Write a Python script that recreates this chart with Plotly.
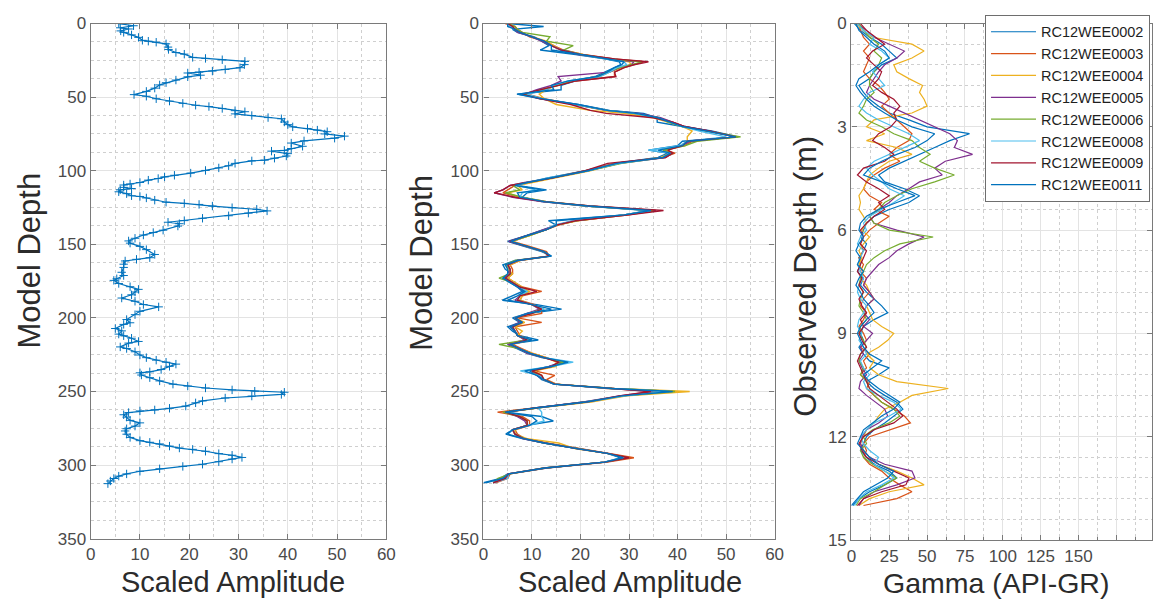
import plotly.graph_objects as go

W, H = 1161, 611

# ---------------- left panel: single model trace ----------------
model_amp = [5.7, 8.7, 6.0, 7.7, 6.1, 6.7, 8.3, 9.7, 10.5, 11.7, 13.3, 15.3, 15.7, 15.8, 17.3, 19.0,
             20.7, 23.3, 26.7, 31.3, 31.2, 30.3, 27.3, 24.7, 22.0, 19.7, 22.3, 19.7, 17.3, 15.3, 14.0,
             13.0, 11.3, 8.8, 11.3, 13.3, 16.0, 18.7, 21.3, 24.0, 26.7, 29.3, 31.3, 29.3, 32.7, 36.0,
             38.7, 39.3, 40.0, 41.0, 44.0, 46.0, 48.0, 47.5, 51.5, 49.5, 43.3, 40.7, 43.0, 40.7, 39.3,
             36.7, 40.0, 39.7, 37.3, 35.3, 32.7, 29.3, 28.0, 26.0, 23.3, 20.3, 17.0, 15.0, 13.7, 11.7,
             10.0, 8.0, 6.7, 6.7, 8.3, 6.0, 5.7, 7.3, 8.3, 10.0, 11.3, 13.0, 15.3, 19.0, 22.0, 24.7,
             28.7, 33.7, 35.8, 32.0, 28.0, 22.7, 19.0, 15.7, 18.0, 17.7, 14.7, 12.7, 10.7, 9.0, 7.7,
             8.0, 10.0, 11.3, 13.0, 12.0, 9.3, 7.0, 6.7, 6.7, 6.3, 6.7, 5.3, 4.7, 5.7, 8.0, 9.7, 9.0,
             8.3, 6.3, 9.0, 10.7, 13.8, 10.0, 9.0, 7.3, 8.0, 6.7, 5.0, 6.3, 5.7, 6.7, 8.3, 9.7, 7.7,
             6.0, 7.3, 9.0, 10.0, 11.3, 13.3, 15.3, 17.3, 16.0, 14.3, 12.0, 10.0, 10.3, 12.0, 14.0,
             16.7, 19.7, 23.3, 28.7, 33.3, 39.3, 38.7, 32.7, 27.3, 22.7, 21.3, 19.3, 16.0, 13.0, 10.0,
             7.7, 6.7, 7.3, 8.0, 10.0, 9.0, 7.3, 7.0, 7.3, 8.0, 10.0, 12.0, 14.0, 16.0, 18.0, 20.7,
             23.3, 26.0, 28.7, 30.7, 28.7, 26.0, 22.7, 18.7, 14.0, 10.0, 7.3, 5.7, 4.7, 4.0, 3.5]
model_depth = [0.0, 1.5, 2.9, 3.7, 5.0, 6.0, 7.7, 9.4, 11.4, 12.0, 12.7, 13.8, 16.0, 17.6, 19.7, 20.8,
               23.0, 23.7, 24.6, 25.7, 27.9, 30.0, 31.2, 32.3, 33.0, 33.6, 35.1, 36.2, 38.4, 40.2, 41.7,
               43.9, 46.1, 48.3, 49.4, 51.1, 52.7, 54.2, 55.5, 56.4, 57.7, 59.2, 59.9, 61.4, 62.5, 63.9,
               64.7, 66.9, 68.7, 70.2, 71.3, 72.4, 73.5, 75.0, 76.5, 77.9, 79.7, 81.2, 83.4, 84.9, 86.2,
               86.7, 88.4, 90.0, 91.5, 92.8, 93.3, 95.0, 96.6, 98.1, 99.8, 101.6, 103.1, 104.2, 105.3, 106.4,
               108.0, 109.0, 109.7, 111.3, 112.1, 113.0, 114.3, 115.6, 117.0, 117.5, 118.5, 120.0, 121.4, 122.2, 122.9, 124.0,
               125.1, 126.2, 127.3, 128.8, 130.6, 132.3, 133.9, 135.0, 136.0, 137.6, 140.4, 142.0, 143.7, 145.9, 147.7,
               149.2, 151.4, 153.6, 156.9, 159.1, 160.2, 161.3, 163.5, 165.7, 169.0, 171.2, 173.4, 174.5, 176.6, 178.8, 180.6, 182.4,
               184.3, 186.5, 188.7, 190.9, 192.5, 195.5, 197.8, 201.1, 203.3, 204.4, 207.2, 208.8, 211.0, 212.1, 213.8, 216.0, 217.1,
               219.7, 220.8, 223.0, 225.2, 227.0, 228.7, 230.1, 231.4, 232.9, 235.1, 236.6, 237.3, 238.8, 240.6, 242.8,
               245.0, 246.3, 247.6, 248.9, 249.8, 250.5, 252.0, 253.1, 254.4, 256.4, 257.7, 259.9, 261.4, 262.5, 263.2,
               264.3, 265.8, 267.4, 269.6, 271.3, 273.5, 275.3, 276.8, 279.0, 281.2, 283.4, 284.5, 285.6, 287.1, 288.4, 289.3,
               290.6, 292.2, 293.3, 294.8, 295.9, 297.7, 299.4, 300.9, 302.5, 304.2, 306.0, 307.5, 309.1, 310.8, 312.6]

# ---------------- middle panel: one model trace per well ----------------
ens_depth = [0, 2, 4, 6, 9, 12, 15, 18, 21, 24,
             26, 28, 30, 33, 36, 39, 42, 45, 48, 51,
             55, 59, 61, 64, 67, 70, 73, 77, 80, 83,
             86, 88, 91, 95, 100, 105, 108, 110, 113, 115,
             118, 121, 124, 127, 130, 134, 137, 140, 144, 148,
             151, 155, 158, 161, 164, 167, 170, 173, 176, 179,
             182, 185, 188, 191, 194, 197, 200, 203, 206, 209,
             212, 215, 218, 221, 224, 227, 230, 233, 236, 239,
             242, 245, 248, 250, 253, 257, 261, 264, 267, 270,
             273, 276, 279, 282, 285, 289, 292, 295, 298, 302,
             306, 309, 312]

ens_0002 = [5, 12.4, 6, 7, 10.5, 12, 13.5, 11.7, 19, 25,
            28, 28.3, 27, 25, 23, 19, 16, 16, 6.9, 11.5,
            19.5, 26, 33, 35.8, 35.8, 41, 47, 52.5, 41, 40,
            34, 38, 36, 27, 21, 13, 9, 7, 13, 9,
            8, 12, 21, 34, 29, 13.4, 15, 12.5, 9, 5,
            8, 12, 14, 6.5, 4, 4.5, 6, 4, 5.5, 7,
            8, 6, 3.9, 11, 16.1, 9, 6, 7.5, 5, 6,
            7.5, 11.3, 5, 7, 9, 12, 17, 13.5, 9.5, 11,
            12, 14.5, 27, 39.5, 29, 21, 11, 4.5, 12, 14.4,
            9, 6, 4.6, 8, 12.5, 19.5, 25.5, 28.3, 25, 13,
            5, 3.5, 0]
ens_0003 = [4.5, 6.5, 7, 8, 9.5, 12.5, 14.5, 16.5, 20.5, 27,
            33, 31, 29, 27, 27, 19, 15, 12, 9, 12.5,
            18.5, 25, 30.5, 36, 39, 41.5, 46, 52, 43, 41.5,
            37.5, 39.5, 37, 27, 21, 14, 9.5, 6.5, 5, 4,
            7.5, 13, 22, 35.5, 30, 19, 15.5, 13, 9.5, 6,
            9, 13, 13.5, 7.5, 5.5, 6, 6, 5, 6.5, 8,
            12, 8, 7.5, 10.5, 12, 12, 7, 12, 6.5, 7,
            7.5, 9.5, 6, 8, 10, 13, 15.5, 14, 10.5, 14.7,
            13, 15, 25.5, 37, 28.5, 22, 11.5, 2.9, 8, 9.5,
            9.5, 6.5, 7, 8.5, 13, 20, 26, 31, 25.5, 13,
            5.5, 5, 2.5]
ens_0004 = [5.5, 6, 6.5, 7.5, 10, 13, 14.5, 16, 20.5, 25.5,
            30, 30.5, 28.5, 26, 24, 18.5, 15, 13, 11.5, 12.5,
            15, 22, 29, 35, 38, 41, 43, 42, 42, 41,
            37.5, 38.5, 36.5, 28, 22, 14.5, 9.5, 7, 8, 5,
            7.5, 12.5, 21, 34.5, 29.5, 19.5, 15, 13, 9.5, 6,
            8.5, 12.5, 13.5, 7.5, 5.5, 5, 6, 5, 6.5, 8,
            9.5, 8, 7.5, 10, 12.5, 10, 6.5, 8.5, 6.5, 8,
            7, 9.5, 5.5, 7.5, 10, 13, 15, 15, 10.5, 12,
            12.5, 15, 27, 42.5, 29.5, 22.5, 11.5, 5, 7.5, 9,
            9, 6.5, 6.5, 9, 15.5, 19, 25.5, 29.5, 25, 12.5,
            5, 4.5, 2]
ens_0005 = [5, 6, 6.5, 7, 10, 12, 14, 16, 19.5, 26,
            31, 30.5, 28, 26, 15.4, 16, 14, 11, 8.5, 11.5,
            19, 25.5, 32, 36.5, 39, 41.5, 46.5, 52, 42.5, 41,
            37, 39, 37.5, 28, 21.5, 14, 8.5, 5.5, 4, 2.2,
            6, 12, 21.5, 35.5, 29, 18.5, 15, 12.5, 9, 5.2,
            8.5, 12.5, 13.5, 7, 5, 5.5, 5, 4.5, 6, 7,
            8.5, 7.5, 6.5, 10, 11.5, 9, 6.5, 7.5, 5.5, 6.5,
            7, 8.5, 5, 7.5, 9, 12.5, 16, 13.5, 10, 11,
            12.5, 14.5, 27.6, 35, 28, 21, 11, 4.5, 7, 8.5,
            9, 6, 6.5, 8, 12.5, 19.5, 25.5, 29.5, 25, 12.5,
            5, 4, 2]
ens_0006 = [5, 6.5, 7, 8, 13.7, 13, 18.5, 16.5, 20, 26,
            32.7, 30.5, 28, 25.5, 23.5, 18, 15.5, 12, 8.5, 12,
            19, 25.5, 31, 36, 38, 41, 46, 53, 44, 41.5,
            37, 39, 37, 28.5, 21.5, 14, 9, 6, 7.5, 4.5,
            8, 13, 21.5, 35, 29, 19, 15, 13, 9.5, 5.8,
            8.5, 12.5, 13.5, 6.5, 4.5, 5.5, 5.5, 3.2, 6, 7.5,
            9, 7.5, 7, 10, 12, 9.5, 6.5, 8, 6, 6.5,
            7, 9, 3.2, 7.5, 9.5, 12.5, 16.5, 14, 10, 11.5,
            12.5, 14.7, 26.5, 39.5, 28.5, 21.5, 11.5, 4, 7.5, 9,
            9, 6, 6.5, 8.5, 12.5, 19.5, 25.5, 29.5, 25, 12.5,
            5.5, 3, 2]
ens_0008 = [5, 5.5, 6.5, 7.5, 10, 12.5, 14, 16, 20, 25,
            29, 29.5, 27.5, 26, 24, 17.5, 14.5, 13, 9, 12,
            19, 25.5, 31, 35.5, 38.5, 41, 44.5, 50, 42, 40.5,
            34, 38.5, 37, 28, 21.5, 13, 9, 7, 10.7, 8,
            7.5, 12.5, 21.5, 34.5, 29, 18.5, 14.5, 13, 9, 5.6,
            8.5, 12.5, 13.5, 7, 5, 5.5, 5.5, 4.5, 6, 7.5,
            9, 7.5, 7, 10, 12.5, 9.5, 6.5, 8, 6, 6.5,
            7, 9, 5.5, 7.5, 9.5, 12.5, 18.5, 14, 7.6, 11.5,
            12.5, 14.5, 26, 38, 29, 21.5, 11.3, 12, 12, 12.5,
            9.5, 6, 6.5, 8.3, 12.7, 19.5, 25.6, 29, 24.9, 12.7,
            5.2, 5, 2]
ens_0009 = [5, 6, 6.5, 7.5, 10, 12.5, 14, 16, 20, 27,
            34, 31, 29, 27, 27.3, 19, 15.5, 12, 8, 11.5,
            18, 22, 25.3, 35, 39, 41.5, 46.5, 52, 42, 41,
            38, 39, 37.5, 25.6, 21, 14, 8.5, 5.5, 4, 2.2,
            6.5, 12.5, 22, 37.1, 30, 19, 15, 13, 9, 5.5,
            8.5, 12.5, 13.5, 7, 5, 5.5, 5.5, 4.5, 6, 7.5,
            11, 7.5, 7, 10, 12, 10, 6.5, 8, 6, 6.5,
            7, 9, 5.5, 7.5, 9.5, 12.5, 15.5, 14, 10, 12,
            12.5, 14.7, 26, 34.5, 28, 21.5, 11, 4.5, 7.5, 9,
            9, 6, 6.5, 8.3, 12.7, 19.5, 25.6, 30, 25, 12.7,
            5.2, 4.5, 2]
ens_0011 = [5, 5, 6.5, 7.5, 10, 12.5, 14, 14, 20, 25.5,
            29, 28.5, 27, 25.5, 23.5, 17.5, 14, 14.5, 7, 12,
            19.5, 25.5, 31.5, 36, 38.5, 41, 46, 52, 42, 41,
            36, 38.5, 37, 27.5, 21.5, 13.5, 9, 6.5, 12, 7,
            7.5, 12.5, 21.5, 34.5, 29, 15, 15, 13, 9, 5.6,
            8.5, 12.5, 14, 7, 4.5, 5, 5, 4, 5.5, 7,
            8.5, 7, 5, 10, 14, 9, 6.5, 8, 5.5, 6.5,
            7, 10, 5.5, 7.5, 9.5, 12.5, 17.5, 14, 8.5, 11,
            12.5, 14.5, 26.5, 39, 28.5, 21.5, 11, 4.5, 10, 11,
            9.5, 6, 5, 8.3, 12.5, 19.5, 25.5, 28.8, 24.9, 12.7,
            5.2, 4, 0.5]

# ---------------- right panel: gamma logs ----------------
gr_depth = [0.0, 0.2, 0.4, 0.6, 0.8, 1.0, 1.2, 1.4, 1.6, 1.8,
            2.0, 2.2, 2.4, 2.6, 2.8, 3.0, 3.2, 3.4, 3.6, 3.8,
            4.0, 4.2, 4.4, 4.6, 4.8, 5.0, 5.2, 5.4, 5.6, 5.8,
            6.0, 6.2, 6.4, 6.6, 6.8, 7.0, 7.2, 7.4, 7.6, 7.8,
            8.0, 8.2, 8.4, 8.6, 8.8, 9.0, 9.2, 9.4, 9.6, 9.8,
            10.0, 10.2, 10.4, 10.6, 10.8, 11.0, 11.2, 11.4, 11.6, 11.8,
            12.0, 12.2, 12.4, 12.6, 12.8, 13.0, 13.2, 13.4, 13.6, 13.8,
            14.0]

gr_0002 = [2, 6, 12, 20, 25, 30, 20, 15, 12, 5,
           8, 12, 18, 25, 38, 50, 78, 65, 55, 45,
           35, 25, 18, 22, 35, 45, 38, 25, 15, 10,
           8, 6, 10, 8, 5, 6, 4, 8, 6, 10,
           15, 20, 24, 15, 8, 6, 8, 5, 8, 12,
           25, 18, 10, 15, 22, 30, 34, 28, 22, 15,
           10, 8, 6, 10, 15, 25, 30, 22, 12, 5,
           1]
gr_0003 = [5, 6, 8, 12, 8, 12, 10, 8, 12, 18,
           22, 25, 20, 25, 30, 35, 40, 38, 30, 25,
           32, 22, 15, 10, 8, 12, 20, 15, 25, 18,
           12, 8, 6, 8, 5, 8, 6, 10, 8, 12,
           8, 6, 10, 8, 5, 8, 10, 6, 12, 8,
           10, 6, 12, 10, 15, 20, 28, 35, 39, 25,
           12, 8, 10, 8, 12, 20, 25, 32, 40, 30,
           8]
gr_0004 = [3, 8, 14, 40, 48, 40, 28, 30, 38, 47,
           45, 48, 50, 40, 15, 10, 22, 10, 30, 40,
           25, 18, 12, 10, 8, 5, 6, 5, 8, 10,
           7, 12, 8, 5, 7, 5, 8, 6, 10, 12,
           15, 10, 12, 14, 20, 28, 24, 18, 10, 15,
           12, 18, 30, 64, 40, 32, 22, 18, 15, 10,
           8, 6, 8, 12, 18, 30, 40, 48, 25, 12,
           5]
gr_0005 = [4, 10, 15, 25, 35, 30, 22, 18, 15, 12,
           10, 15, 25, 35, 45, 55, 65, 70, 68, 80,
           62, 55, 60, 45, 38, 30, 25, 18, 12, 15,
           30, 48, 38, 30, 25, 18, 14, 10, 8, 12,
           15, 10, 8, 12, 8, 14, 10, 6, 8, 5,
           7, 10, 6, 5, 10, 16, 22, 24, 18, 10,
           7, 6, 8, 12, 22, 40, 42, 30, 15, 8,
           5]
gr_0006 = [5, 8, 12, 18, 15, 20, 18, 15, 12, 12,
           15, 10, 8, 5, 10, 20, 28, 40, 45, 52,
           45, 55, 68, 55, 40, 30, 22, 18, 12, 15,
           25, 54, 32, 22, 15, 10, 8, 6, 5, 8,
           6, 5, 8, 10, 6, 5, 8, 10, 6, 5,
           8, 6, 10, 12, 15, 20, 28, 32, 25, 14,
           8, 10, 6, 8, 14, 22, 30, 22, 15, 6,
           3]
gr_0008 = [4, 8, 15, 12, 20, 25, 18, 14, 18, 22,
           12, 8, 5, 10, 18, 28, 38, 45, 35, 25,
           15, 10, 14, 20, 25, 35, 28, 20, 12, 8,
           10, 6, 4, 8, 6, 4, 6, 8, 5, 4,
           6, 10, 8, 5, 4, 7, 5, 8, 10, 6,
           8, 12, 8, 10, 18, 28, 33, 25, 15, 10,
           6, 8, 12, 18, 15, 22, 28, 20, 10, 5,
           2]
gr_0009 = [6, 10, 16, 22, 14, 10, 15, 20, 18, 14,
           20, 28, 32, 28, 30, 26, 18, 14, 22, 28,
           22, 8, 4, 10, 18, 25, 18, 22, 15, 10,
           6, 8, 6, 10, 8, 6, 4, 7, 5, 8,
           5, 7, 10, 6, 8, 5, 7, 10, 6, 4,
           6, 8, 10, 12, 18, 24, 30, 34, 28, 15,
           8, 5, 7, 10, 18, 28, 38, 36, 20, 8,
           4]
gr_0011 = [3, 5, 10, 15, 22, 25, 18, 12, 5, 3,
           6, 10, 15, 22, 30, 40, 55, 50, 42, 30,
           20, 12, 8, 20, 30, 42, 30, 18, 10, 6,
           5, 8, 5, 3, 6, 4, 8, 5, 3, 6,
           8, 12, 15, 10, 6, 4, 6, 8, 12, 20,
           14, 8, 12, 18, 25, 32, 28, 20, 14, 8,
           6, 4, 8, 12, 18, 28, 24, 16, 8, 4,
           0]

well_names = ["RC12WEE0002", "RC12WEE0003", "RC12WEE0004", "RC12WEE0005",
              "RC12WEE0006", "RC12WEE0008", "RC12WEE0009", "RC12WEE0011"]
ens_series = [ens_0002, ens_0003, ens_0004, ens_0005, ens_0006, ens_0008, ens_0009, ens_0011]
gr_series = [gr_0002, gr_0003, gr_0004, gr_0005, gr_0006, gr_0008, gr_0009, gr_0011]
well_colors = ["#0072BD", "#D95319", "#EDB120", "#7E2F8E",
               "#77AC30", "#4DBEEE", "#A2142F", "#0072BD"]

amp_ticks = [0, 10, 20, 30, 40, 50, 60]
depth_ticks = [0, 50, 100, 150, 200, 250, 300, 350]
gamma_ticks = [0, 25, 50, 75, 100, 125, 150, 175]
gamma_labels = ["0", "25", "50", "75", "100", "125", "150", ""]
obs_ticks = [0, 3, 6, 9, 12, 15]

assert len(model_amp) == len(model_depth)
for s in ens_series:
    assert len(s) == len(ens_depth)
for s in gr_series:
    assert len(s) == len(gr_depth)

# ---------------- styling ----------------
FONT = "Liberation Sans, Arial, sans-serif"
AXIS_COL = "#7a7a7a"
GRID_COL = "#e3e3e3"
MINOR_COL = "#cfcfcf"
TICK_COL = "#4a4a4a"
TITLE_COL = "#2b2b2b"


def px_x(p):
    return p / W


def px_y(p):
    return 1 - p / H


def axis(domain, rng, tickvals, ticktext=None, minor_dtick=None, minor_ticks="", anchor=None):
    d = dict(
        domain=domain, range=rng, anchor=anchor,
        tickmode="array", tickvals=tickvals,
        showline=True, linecolor=AXIS_COL, linewidth=1.3, mirror="ticks",
        ticks="inside", ticklen=5, tickwidth=1, tickcolor=AXIS_COL,
        showgrid=True, gridcolor=GRID_COL, gridwidth=1, zeroline=False,
        tickfont=dict(family=FONT, size=17, color=TICK_COL),
        minor=dict(dtick=minor_dtick, showgrid=True, gridcolor=MINOR_COL,
                   griddash="dot", gridwidth=1, ticks=minor_ticks, ticklen=3,
                   tickcolor=AXIS_COL),
    )
    if ticktext is not None:
        d["ticktext"] = ticktext
    return d


fig = go.Figure()

# left panel
fig.add_trace(go.Scatter(
    x=model_amp, y=model_depth, mode="lines+markers",
    line=dict(color="#0072BD", width=1.2),
    marker=dict(symbol="cross-thin", size=6, line=dict(color="#0072BD", width=1)),
    xaxis="x", yaxis="y", showlegend=False, hoverinfo="skip"))

# middle panel
for name, vals, col in zip(well_names, ens_series, well_colors):
    fig.add_trace(go.Scatter(
        x=vals, y=ens_depth, mode="lines", line=dict(color=col, width=1.4),
        xaxis="x2", yaxis="y2", showlegend=False, name=name, hoverinfo="skip"))

# right panel
for name, vals, col in zip(well_names, gr_series, well_colors):
    fig.add_trace(go.Scatter(
        x=vals, y=gr_depth, mode="lines", line=dict(color=col, width=1.2),
        xaxis="x3", yaxis="y3", showlegend=True, name=name, hoverinfo="skip"))

y12_dom = [px_y(546.7), px_y(15)]
y3_dom = [px_y(548), px_y(15)]

fig.update_layout(
    width=W, height=H,
    margin=dict(l=0, r=0, t=0, b=0),
    paper_bgcolor="white", plot_bgcolor="white",
    font=dict(family=FONT),
    xaxis=axis([px_x(86.7), px_x(386)], [0, 60], amp_ticks, minor_dtick=5, anchor="y"),
    yaxis=axis(y12_dom, [350, 0], depth_ticks, minor_dtick=12.5, anchor="x"),
    xaxis2=axis([px_x(484.3), px_x(779)], [0, 60], amp_ticks, minor_dtick=5, anchor="y2"),
    yaxis2=axis(y12_dom, [350, 0], depth_ticks, minor_dtick=12.5, anchor="x2"),
    xaxis3=axis([px_x(856.7), 1.0], [0, 198.5], gamma_ticks, gamma_labels,
                minor_dtick=12.5, minor_ticks="inside", anchor="y3"),
    yaxis3=axis(y3_dom, [15, 0], obs_ticks, minor_dtick=0.6, anchor="x3"),
    legend=dict(
        x=px_x(992), y=px_y(6), xanchor="left", yanchor="top",
        bgcolor="white", bordercolor="#6e6e6e", borderwidth=1,
        font=dict(family=FONT, size=14.5, color="#1f1f1f"),
        tracegroupgap=0, itemwidth=45,
    ),
)

# axis titles
titles = [
    ("Model Depth", 25, 260, -90, 31),
    ("Scaled Amplitude", 231, 591, 0, 29),
    ("Model Depth", 422, 262, -90, 31),
    ("Scaled Amplitude", 633, 591, 0, 29),
    ("Observed Depth (m)", 810, 276, -90, 31),
    ("Gamma (API-GR)", 1003, 592, 0, 28.5),
]
for text, cx, cy, ang, size in titles:
    fig.add_annotation(
        text=text, x=px_x(cx), y=px_y(cy), xref="paper", yref="paper",
        xanchor="center", yanchor="middle", textangle=ang, showarrow=False,
        font=dict(family=FONT, size=size, color=TITLE_COL))

fig.write_html("out.html")
